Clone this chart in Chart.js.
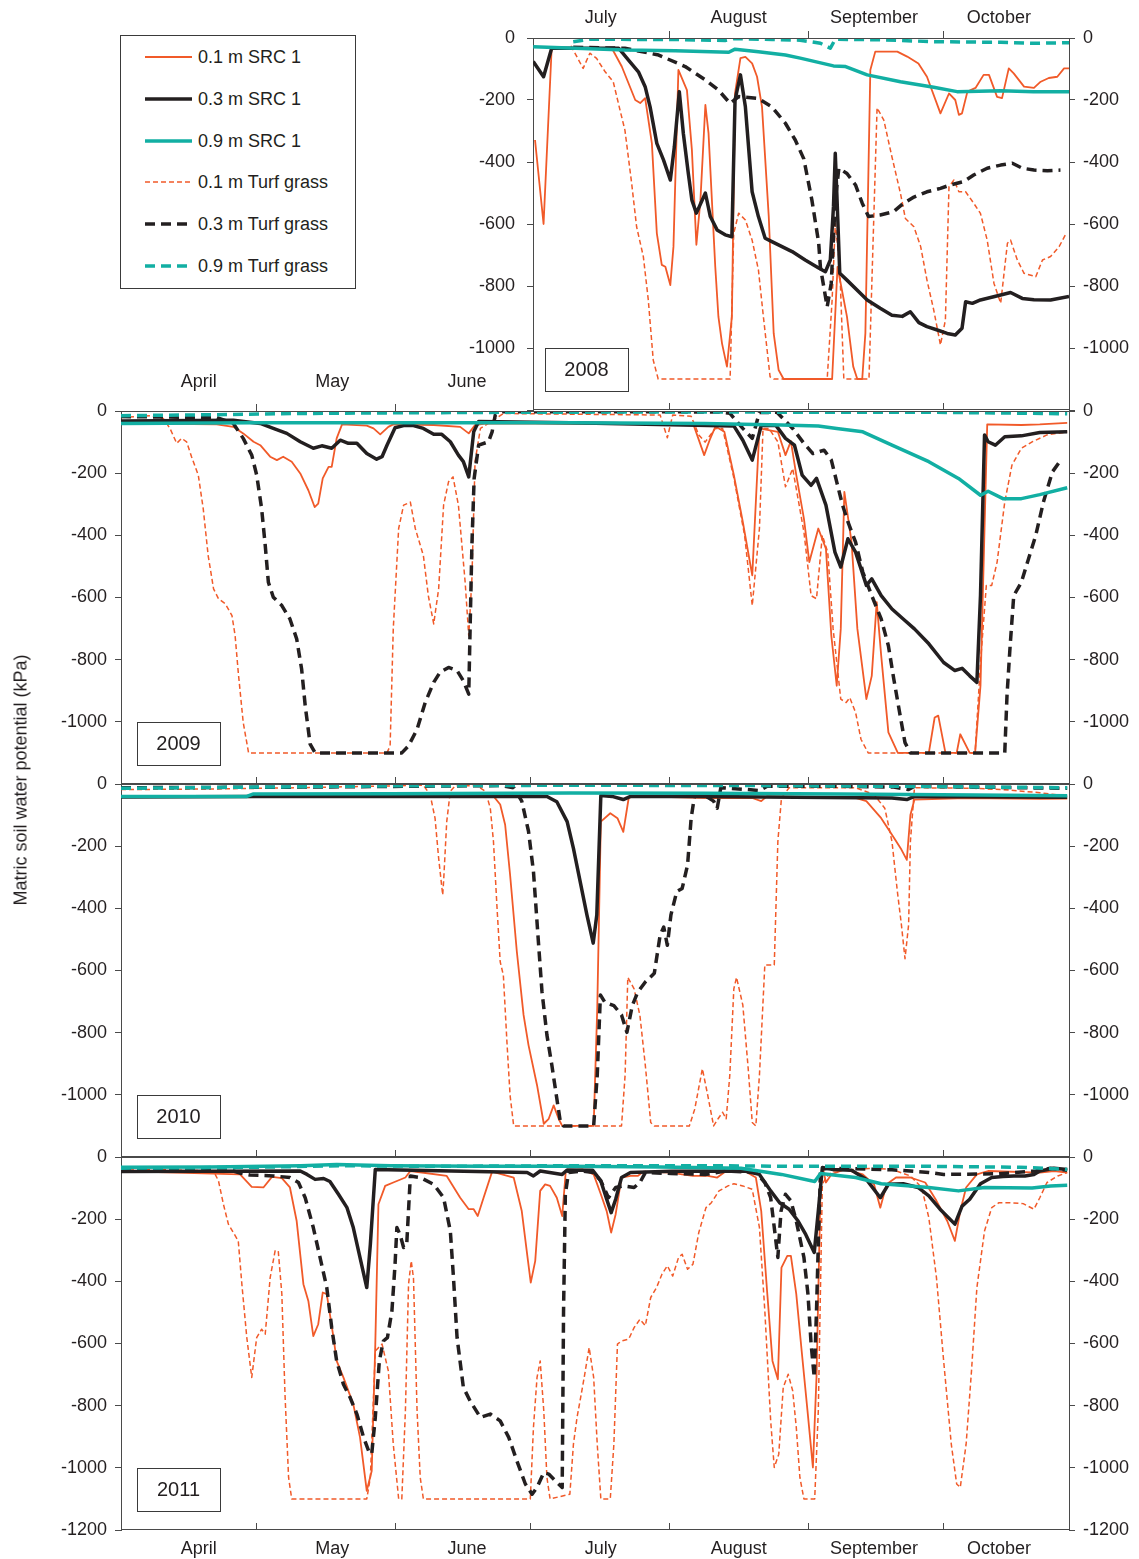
<!DOCTYPE html>
<html><head><meta charset="utf-8">
<script src="https://cdn.jsdelivr.net/npm/chart.js@4.4.1/dist/chart.umd.min.js"></script>
<style>
html,body{margin:0;padding:0;background:#fff;}
body{width:1139px;height:1559px;position:relative;overflow:hidden;font-family:"Liberation Sans",Arial,Helvetica,sans-serif;color:#231F20;}
canvas{position:absolute;left:0;top:0;}
#legend{position:absolute;left:120px;top:35px;width:234px;height:252px;border:1px solid #3a3a3a;background:#fff;z-index:5;}
.lrow{position:absolute;left:0;height:24px;}
.lrow svg{position:absolute;left:24px;top:8px;}
.lrow span{position:absolute;left:77px;top:1px;font-size:18px;white-space:nowrap;line-height:22px;}
#ytitle{position:absolute;left:21px;top:780px;width:420px;text-align:center;font-size:18px;transform:translate(-50%,-50%) rotate(-90deg);white-space:nowrap;}
</style></head>
<body>
<canvas id="c2008" width="1139" height="1559"></canvas>
<canvas id="c2009" width="1139" height="1559"></canvas>
<canvas id="c2010" width="1139" height="1559"></canvas>
<canvas id="c2011" width="1139" height="1559"></canvas>
<div id="legend"></div>
<div id="ytitle">Matric soil water potential (kPa)</div>
<script>
// ---------- labels / ticks ----------
const monthNames = ['April','May','June','July','August','September','October'];
const monthLabelDays = [17.3, 47.0, 77.0, 106.8, 137.5, 167.6, 195.4]; // days since 1 April
const monthStartDays = [30, 61, 91, 122, 153, 183];
const yearLabels = ['2008','2009','2010','2011'];
const yAxisTitle = 'Matric soil water potential (kPa)';

// ---------- data: [day since 1 April, kPa] ----------
// 2008
const s01_2008 = [[92.2,-329],[94.1,-600],[95.9,-33],[109.3,-33],[111.5,-92],[114.5,-200],[115.6,-210],[116.7,-194],[118.2,-340],[119.3,-630],[120.4,-732],[121.2,-738],[122.3,-797],[123.0,-673],[124.1,-103],[126.0,-168],[127.1,-361],[128.1,-667],[129.0,-523],[130.1,-216],[130.8,-307],[132.3,-738],[133.0,-899],[133.8,-985],[134.9,-1060],[136.0,-899],[136.7,-178],[137.9,-65],[139.0,-61],[140.5,-82],[141.6,-125],[142.7,-222],[144.2,-576],[145.3,-953],[146.4,-1071],[147.5,-1100],[158.3,-1100],[159.5,-738],[161.6,-899],[163.0,-1060],[163.9,-1100],[165.0,-1100],[165.7,-952],[166.8,-103],[167.9,-44],[172.8,-44],[175.0,-60],[177.5,-82],[179.4,-125],[182.4,-243],[184.3,-179],[185.7,-200],[186.5,-248],[187.2,-243],[188.4,-173],[190.2,-161],[192.0,-119],[193.2,-119],[195.0,-190],[196.1,-194],[197.6,-98],[198.7,-114],[201.0,-157],[203.2,-161],[204.7,-141],[206.5,-129],[208.4,-125],[209.9,-98],[211.0,-98]];
const s03_2008 = [[91.8,-76],[94.1,-125],[95.9,-33],[110.8,-33],[113.0,-71],[115.2,-109],[116.7,-157],[117.8,-222],[119.3,-340],[120.8,-394],[122.3,-458],[123.2,-351],[124.3,-173],[125.2,-308],[126.3,-436],[127.1,-523],[128.1,-565],[130.1,-500],[131.2,-576],[132.7,-619],[134.5,-635],[136.0,-641],[136.7,-200],[137.9,-119],[139.0,-222],[140.5,-496],[141.9,-576],[143.4,-646],[144.9,-657],[149.4,-689],[152.3,-716],[155.3,-742],[156.8,-754],[157.9,-716],[158.6,-544],[159.0,-372],[159.4,-523],[160.0,-759],[161.6,-781],[166.1,-845],[169.0,-872],[171.6,-894],[173.9,-898],[175.7,-883],[177.6,-918],[179.4,-931],[181.7,-942],[183.9,-953],[185.7,-958],[187.2,-936],[188.0,-851],[189.5,-856],[191.3,-845],[195.8,-829],[198.0,-821],[200.6,-840],[203.2,-844],[206.9,-845],[211.0,-834]];
const s09_2008 = [[91.8,-28],[112.2,-39],[123.4,-41],[135.3,-46],[136.7,-36],[141.9,-44],[147.9,-55],[151.2,-65],[158.6,-90],[161.3,-92],[166.1,-119],[173.5,-141],[180.9,-159],[186.1,-173],[195.8,-170],[203.1,-173],[211.0,-173]];
const t01_2008 = [[100.2,-25],[102.9,-98],[104.4,-49],[105.9,-66],[107.8,-109],[109.6,-141],[111.1,-232],[112.2,-297],[113.7,-469],[114.8,-609],[116.3,-705],[117.4,-845],[118.5,-1039],[119.6,-1100],[135.6,-1100],[136.4,-631],[137.5,-565],[139.0,-587],[140.5,-652],[141.9,-748],[143.0,-898],[144.5,-1093],[145.3,-1100],[157.2,-1100],[158.3,-845],[159.0,-598],[160.0,-738],[160.9,-1100],[166.5,-1100],[168.3,-225],[169.8,-265],[171.6,-383],[173.5,-501],[174.6,-582],[176.5,-609],[178.0,-673],[179.4,-781],[180.9,-877],[182.4,-990],[183.5,-910],[184.3,-480],[185.4,-458],[186.5,-496],[188.0,-496],[189.8,-533],[191.3,-566],[192.8,-652],[194.3,-791],[195.8,-856],[197.3,-662],[198.0,-652],[199.5,-716],[201.0,-759],[203.6,-770],[205.1,-716],[206.9,-705],[208.8,-673],[210.2,-635]];
const t03_2008 = [[100.7,-30],[112.2,-33],[119.7,-55],[125.6,-92],[130.1,-135],[133.0,-168],[135.6,-211],[137.5,-189],[141.9,-195],[144.9,-222],[147.9,-275],[150.1,-329],[152.0,-390],[153.8,-523],[155.3,-660],[155.7,-740],[157.2,-867],[158.1,-791],[159.0,-523],[159.8,-420],[161.6,-437],[163.5,-474],[165.0,-533],[166.4,-576],[169.0,-571],[172.0,-560],[174.2,-533],[176.5,-513],[179.4,-496],[182.4,-485],[184.6,-474],[187.6,-463],[189.8,-442],[192.8,-420],[195.8,-410],[198.4,-404],[200.6,-420],[203.2,-426],[206.2,-428],[209.1,-426]];
const t09_2008 = [[100.7,-12],[104.4,-4],[124.0,-5],[134.5,-8],[136.4,-2],[145.0,-5],[151.2,-7],[155.7,-17],[157.9,-33],[159.0,-4],[170.0,-6],[180.9,-12],[195.8,-14],[203.1,-17],[211.0,-15]];
// 2009
const s01_2009 = [[0,-40],[21.3,-43],[25.0,-51],[27.2,-72],[29.5,-99],[31.0,-110],[33.2,-147],[34.7,-158],[36.1,-147],[38.0,-163],[39.9,-201],[41.7,-255],[43.1,-309],[43.9,-298],[44.9,-217],[46.2,-180],[46.9,-180],[48.0,-88],[49.2,-43],[54.7,-47],[56.2,-56],[57.7,-75],[59.5,-51],[60.6,-43],[69.6,-45],[75.5,-51],[77.4,-72],[78.8,-45],[81.4,-40],[127.4,-43],[129.8,-142],[131.0,-94],[132.3,-50],[134.3,-67],[136.4,-206],[138.4,-357],[140.5,-529],[142.1,-56],[146.2,-67],[147.9,-142],[149.1,-97],[150.3,-206],[152.0,-346],[153.2,-486],[155.2,-378],[156.9,-443],[158.1,-723],[159.3,-884],[160.2,-701],[161.0,-260],[162.6,-422],[163.9,-701],[165.9,-927],[167.1,-852],[168.2,-615],[169.2,-787],[170.8,-1034],[172.9,-1100],[179.8,-1100],[181.1,-986],[181.9,-980],[183.5,-1100],[186.0,-1100],[186.8,-1040],[188.9,-1100],[190.1,-1100],[191.3,-884],[192.2,-378],[192.8,-43],[200.4,-45],[204.5,-43],[210.6,-38]];
const s03_2009 = [[0,-32],[25,-30],[31.0,-40],[33.9,-56],[36.9,-72],[39.9,-99],[42.8,-120],[44.7,-112],[46.9,-120],[48.8,-94],[50.6,-104],[52.5,-104],[54.7,-137],[56.9,-155],[58.1,-147],[59.2,-110],[61.0,-54],[62.9,-47],[65.1,-47],[67.3,-56],[69.6,-75],[71.4,-75],[73.3,-99],[75.1,-142],[76.2,-163],[77.4,-212],[78.5,-67],[79.6,-34],[100,-38],[136.4,-48],[138.4,-94],[140.5,-158],[142.5,-47],[145.8,-47],[147.9,-88],[149.9,-110],[151.6,-206],[153.6,-239],[154.8,-217],[156.9,-303],[158.9,-454],[160.2,-502],[161.8,-411],[163.5,-454],[165.9,-561],[167.1,-540],[169.2,-594],[171.6,-637],[174.1,-669],[176.6,-701],[179.8,-749],[183.1,-809],[185.6,-835],[187.2,-828],[188.9,-852],[190.5,-873],[191.3,-594],[192.2,-77],[193.0,-99],[194.6,-110],[196.7,-83],[200.4,-80],[204.5,-69],[210.6,-67]];
const s09_2009 = [[0,-40],[30,-38],[60,-38],[100,-38],[130,-40],[147.0,-45],[155.2,-48],[159.3,-56],[165.1,-67],[171.6,-110],[179.8,-163],[186.4,-217],[191.3,-271],[193.0,-258],[196.3,-282],[200.4,-282],[204.5,-269],[210.6,-247]];
const t01_2009 = [[0,-21],[6.5,-15],[9.4,-24],[10.9,-56],[12.4,-104],[13.5,-88],[14.6,-99],[15.7,-147],[17.2,-206],[18.3,-314],[19.4,-465],[20.6,-572],[21.7,-604],[23.2,-620],[24.7,-658],[25.4,-723],[26.1,-841],[27.2,-1002],[28.4,-1100],[59.2,-1100],[59.9,-1077],[60.6,-701],[61.8,-378],[62.9,-303],[64.4,-293],[65.5,-378],[67.3,-465],[68.4,-594],[69.6,-685],[70.7,-572],[71.8,-303],[72.9,-228],[73.9,-212],[75.1,-303],[76.6,-551],[77.4,-723],[78.1,-540],[78.8,-163],[80.0,-56],[82.9,-29],[85.1,-8],[120.0,-13],[121.6,-86],[122.8,-13],[126.9,-17],[128.6,-77],[130.0,-100],[132.3,-56],[133.9,-56],[136.4,-215],[138.8,-400],[140.5,-626],[142.1,-378],[142.9,-56],[144.2,-56],[146.2,-99],[147.9,-244],[149.5,-185],[152.0,-389],[153.6,-594],[154.8,-604],[156.1,-400],[157.3,-454],[158.5,-701],[160.2,-927],[161.4,-938],[162.2,-922],[163.5,-970],[164.7,-1056],[166.3,-1100],[190.1,-1100],[191.3,-809],[192.6,-561],[193.8,-561],[195.0,-486],[196.7,-293],[198.3,-174],[200.4,-120],[202.8,-99],[206.1,-77],[210.6,-67]];
const t03_2009 = [[0,-18],[21.3,-21],[25.0,-40],[27.2,-88],[29.1,-142],[30.2,-206],[31.3,-314],[32.1,-432],[32.8,-551],[33.9,-599],[35.8,-626],[37.6,-669],[39.1,-733],[40.2,-830],[41.0,-948],[42.1,-1072],[43.2,-1100],[62.5,-1100],[64.0,-1077],[65.9,-1024],[67.7,-938],[69.6,-873],[71.0,-841],[72.9,-825],[74.8,-835],[76.2,-868],[77.4,-911],[77.7,-701],[78.1,-432],[78.6,-217],[79.6,-110],[81.8,-99],[82.6,-67],[83.3,-13],[85.1,-2],[133,-3],[135.5,-7],[138.4,-56],[140.5,-88],[142.1,-5],[146,-4],[149.5,-56],[152.0,-104],[154.0,-137],[156.5,-126],[158.1,-158],[159.3,-228],[160.6,-303],[161.8,-357],[163.5,-422],[165.1,-518],[167.1,-594],[169.2,-669],[170.8,-755],[172.0,-862],[173.3,-970],[174.5,-1067],[175.7,-1100],[196.7,-1100],[197.2,-916],[197.9,-755],[198.7,-594],[200.4,-551],[202.0,-475],[203.6,-400],[205.3,-293],[207.3,-196],[209.4,-153]];
const t09_2009 = [[0,-15],[20,-12],[40,-8],[60,-6],[90,-4],[130,-3],[150,-4],[180,-4],[200,-7],[210.6,-9]];
// 2010
const s01_2010 = [[0,-39],[30,-38],[60,-38],[82.9,-39],[84.4,-66],[85.5,-131],[86.6,-292],[88.1,-539],[89.6,-743],[90.7,-840],[92.6,-969],[94.1,-1093],[95.2,-1077],[96.3,-1034],[97.4,-1077],[98.2,-1100],[105.2,-1100],[106.0,-722],[106.8,-121],[108.9,-94],[110.5,-110],[111.8,-154],[113.0,-45],[114.2,-39],[130.6,-45],[140.5,-45],[142.5,-55],[143.8,-39],[163.5,-45],[165.9,-55],[169.2,-110],[171.6,-163],[173.7,-211],[174.9,-244],[175.7,-100],[176.6,-50],[188.1,-45],[204.5,-48],[210.6,-47]];
const s03_2010 = [[0,-42],[30,-40],[60,-40],[94.8,-40],[97.0,-57],[99.3,-121],[100.7,-207],[102.2,-314],[103.7,-421],[105.1,-512],[105.9,-421],[106.8,-37],[109.3,-40],[111.8,-50],[113.4,-40],[130,-40],[150,-43],[171.6,-45],[174.9,-50],[176.6,-40],[210.6,-43]];
const s09_2010 = [[0,-40],[28.0,-40],[29.5,-32],[60,-31],[100,-29],[130,-30],[160,-32],[190,-35],[210.6,-38]];
const t01_2010 = [[0,-18],[20,-16],[40,-12],[60,-6],[67.3,-4],[68.8,-34],[69.9,-110],[70.7,-239],[71.6,-357],[71.8,-314],[72.5,-121],[73.3,-23],[74.4,-6],[79.2,-6],[81.1,-23],[82.2,-78],[82.9,-185],[83.7,-400],[84.4,-572],[85.1,-615],[85.9,-830],[86.6,-1002],[87.4,-1100],[111.4,-1100],[112.2,-937],[112.8,-622],[114.2,-659],[115.5,-745],[116.7,-905],[117.9,-1089],[118.7,-1100],[126.5,-1100],[127.7,-1046],[129.4,-916],[130.6,-1002],[131.9,-1100],[132.9,-1077],[133.9,-1056],[134.7,-1077],[135.5,-937],[136.4,-659],[137.0,-622],[138.4,-711],[139.6,-916],[140.5,-1089],[141.3,-1100],[142.1,-937],[143.3,-582],[145.4,-582],[146.2,-185],[147.0,-45],[148.7,-12],[163.5,-12],[167.6,-34],[170.0,-78],[171.6,-185],[172.8,-346],[173.7,-453],[174.5,-562],[175.3,-453],[175.7,-185],[176.6,-12],[190,-14],[196.3,-18],[204.5,-28],[210.6,-39]];
const t03_2010 = [[0,-12],[40,-10],[84.4,-5],[87.4,-12],[89.2,-55],[90.7,-152],[91.8,-281],[92.9,-507],[93.7,-668],[94.8,-808],[95.9,-905],[97.0,-1012],[97.8,-1088],[98.5,-1100],[105.2,-1100],[106.0,-937],[106.7,-679],[107.7,-702],[109.7,-713],[111.4,-743],[112.6,-799],[113.8,-713],[115.0,-670],[116.7,-637],[118.7,-609],[120.0,-486],[120.8,-460],[121.6,-519],[122.4,-421],[123.7,-346],[124.9,-336],[126.1,-261],[126.9,-110],[127.7,-34],[130.2,-39],[131.9,-55],[132.7,-78],[133.5,-12],[139.6,-18],[142.1,-21],[143.8,-7],[160,-7],[172,-10],[175.3,-18],[176.6,-7],[200,-12],[210.6,-14]];
const t09_2010 = [[0,-14],[30,-10],[60,-6],[100,-4],[140,-5],[180,-8],[210.6,-12]];
// 2011
const s01_2011 = [[0,-45],[26.5,-56],[29.1,-96],[31.7,-98],[33.6,-64],[35.8,-68],[37.6,-98],[39.1,-206],[40.6,-409],[41.7,-463],[42.8,-576],[43.9,-538],[44.9,-436],[45.8,-441],[47.3,-581],[48.0,-656],[49.5,-709],[51.7,-795],[53.2,-902],[54.7,-1074],[55.8,-1010],[56.6,-602],[57.3,-152],[58.8,-93],[60.6,-82],[63.3,-66],[64.4,-45],[72.5,-61],[75.5,-131],[77.4,-168],[78.5,-168],[79.4,-190],[80.7,-131],[82.6,-47],[87.4,-66],[89.2,-174],[90.4,-313],[91.2,-404],[92.2,-334],[93.3,-109],[94.4,-88],[95.5,-93],[97.0,-131],[98.2,-190],[99.0,-45],[102.7,-40],[105.2,-56],[106.8,-120],[108.1,-174],[109.1,-243],[110.1,-184],[111.4,-66],[113.4,-61],[115.0,-61],[116.3,-47],[122.4,-50],[124.9,-56],[127.3,-61],[130.6,-61],[132.7,-66],[134.7,-45],[138.8,-45],[141.3,-66],[142.5,-174],[143.8,-431],[145.0,-656],[146.2,-715],[147.0,-356],[148.3,-318],[149.1,-318],[150.3,-441],[151.5,-624],[152.8,-817],[154.0,-999],[154.8,-709],[155.7,-98],[156.2,-34],[156.9,-82],[158.1,-56],[161.0,-40],[165.1,-56],[167.6,-88],[169.0,-163],[170.4,-88],[172.5,-66],[175.7,-66],[179.0,-82],[181.5,-141],[183.9,-206],[185.6,-270],[186.8,-174],[188.1,-98],[190.5,-56],[193.0,-45],[204.5,-50],[207.7,-45],[210.6,-50]];
const s03_2011 = [[0,-47],[39.9,-45],[41.4,-56],[43.2,-72],[45.1,-69],[46.5,-79],[48.4,-120],[50.3,-163],[51.7,-227],[53.2,-324],[54.7,-420],[55.5,-281],[56.6,-40],[90.4,-50],[91.8,-61],[93.3,-45],[98.2,-56],[99.3,-42],[105,-43],[106.8,-77],[108.1,-136],[109.1,-179],[110.1,-136],[111.4,-66],[113.4,-50],[122.4,-46],[138.8,-45],[142.1,-56],[144.6,-109],[146.6,-147],[148.7,-168],[150.7,-206],[152.4,-249],[154.3,-307],[155.2,-174],[156.1,-34],[158.5,-40],[162.6,-43],[165.9,-72],[169.0,-131],[170.8,-88],[174.1,-86],[177.4,-98],[179.8,-125],[182.3,-168],[185.6,-216],[187.2,-158],[188.9,-136],[191.3,-86],[193.8,-66],[196.3,-63],[198.7,-61],[201.2,-61],[203.2,-56],[204.5,-45],[207.7,-36],[210.6,-40]];
const s09_2011 = [[0,-33],[20,-32],[40,-28],[48,-24],[60,-28],[80,-30],[100,-30],[120,-32],[138,-36],[147.0,-56],[154.4,-79],[155.7,-53],[163.5,-66],[169.2,-86],[175.7,-93],[179.8,-98],[186.4,-109],[192.2,-98],[202.8,-100],[206.9,-93],[210.6,-91]];
const t01_2011 = [[0,-38],[20.6,-45],[21.7,-77],[22.8,-152],[23.9,-216],[25.0,-243],[26.1,-270],[26.9,-409],[28.0,-581],[29.1,-709],[30.2,-581],[31.3,-554],[32.1,-570],[33.2,-388],[34.3,-302],[35.0,-302],[35.8,-441],[36.5,-763],[37.3,-1031],[38.0,-1100],[54.7,-1100],[55.5,-1031],[56.6,-624],[58.1,-602],[59.5,-688],[60.6,-924],[61.8,-1100],[62.5,-1100],[63.3,-817],[64.0,-409],[64.6,-334],[65.1,-390],[65.9,-817],[66.6,-1031],[67.3,-1100],[91.1,-1100],[91.8,-870],[92.6,-709],[93.3,-656],[94.1,-817],[94.8,-1031],[95.5,-1100],[99.9,-1085],[100.7,-924],[101.5,-838],[102.3,-774],[103.1,-709],[104.2,-613],[105.2,-709],[106.0,-924],[106.8,-1100],[108.9,-1100],[109.7,-924],[110.5,-602],[111.4,-592],[113.0,-586],[114.2,-549],[115.5,-522],[116.7,-543],[117.9,-452],[119.2,-420],[120.4,-377],[121.6,-350],[122.8,-383],[124.1,-323],[124.9,-313],[126.1,-361],[127.3,-345],[128.6,-243],[130.2,-163],[131.4,-147],[133.1,-109],[135.1,-93],[136.4,-86],[138.4,-93],[140.5,-104],[142.1,-227],[143.3,-495],[144.6,-849],[145.4,-999],[146.4,-956],[147.4,-741],[148.5,-699],[149.5,-752],[150.3,-870],[151.1,-1031],[152.0,-1100],[154.4,-1100],[155.2,-817],[156.1,-88],[156.9,-66],[158.5,-45],[163.5,-40],[167.6,-36],[171.6,-40],[175.7,-61],[178.2,-98],[179.8,-195],[181.5,-388],[183.1,-656],[184.8,-924],[186.0,-1052],[186.8,-1063],[188.1,-924],[189.3,-688],[190.5,-420],[192.2,-238],[193.8,-163],[195.4,-147],[197.9,-147],[200.8,-150],[203.2,-168],[204.5,-131],[206.1,-82],[208.5,-61],[210.6,-50]];
const t03_2011 = [[0,-43],[25,-45],[26.5,-52],[28.7,-58],[33.9,-61],[37.6,-66],[39.5,-82],[41.0,-131],[42.8,-227],[44.3,-323],[45.8,-420],[46.9,-549],[48.0,-656],[49.5,-731],[51.0,-774],[52.5,-827],[54.0,-902],[55.1,-945],[55.8,-956],[56.6,-838],[57.5,-656],[58.4,-592],[59.3,-581],[60.3,-495],[61.0,-345],[61.4,-227],[62.1,-249],[62.9,-291],[63.6,-280],[64.4,-61],[66.6,-66],[69.6,-88],[71.8,-131],[73.3,-238],[74.0,-388],[74.8,-581],[76.2,-741],[77.7,-785],[80.0,-838],[82.2,-827],[84.4,-849],[86.3,-902],[88.1,-977],[90.0,-1052],[91.5,-1085],[92.6,-1063],[94.1,-1015],[95.2,-1020],[96.7,-1042],[98.2,-1063],[98.5,-495],[98.9,-120],[99.6,-50],[102.7,-45],[105.2,-50],[106.8,-77],[108.5,-131],[110.1,-98],[111.8,-93],[114.2,-98],[115.5,-82],[116.7,-50],[122.4,-53],[130,-56],[134.7,-45],[141.3,-50],[143.3,-82],[144.6,-131],[145.4,-227],[146.2,-323],[146.9,-174],[147.9,-120],[149.1,-141],[150.3,-206],[152.0,-323],[152.9,-441],[153.6,-602],[154.3,-709],[154.8,-495],[155.2,-281],[155.7,-40],[157.7,-36],[171.6,-41],[179.8,-50],[183.1,-56],[195,-54],[203.6,-45],[206.9,-36],[210.6,-43]];
const t09_2011 = [[0,-36],[30,-33],[50,-28],[70,-30],[100,-28],[130,-28],[150,-30],[180,-30],[200,-33],[210.6,-40]];

// ---------- styles ----------
const ORANGE = '#F15A29', BLACK = '#231F20', TEAL = '#12AFA3', AXIS = '#4a4a4a';
const FONT = '"Liberation Sans", Arial, Helvetica, sans-serif';
const SERIES = [ // drawing order: first is on top
  {key:'t09', label:'0.9 m Turf grass', color:TEAL,   width:3.5, dash:[10,6]},
  {key:'s09', label:'0.9 m SRC 1',      color:TEAL,   width:3.5, dash:[]},
  {key:'s03', label:'0.3 m SRC 1',      color:BLACK,  width:3.5, dash:[]},
  {key:'t03', label:'0.3 m Turf grass', color:BLACK,  width:3.5, dash:[10,6]},
  {key:'s01', label:'0.1 m SRC 1',      color:ORANGE, width:1.8, dash:[]},
  {key:'t01', label:'0.1 m Turf grass', color:ORANGE, width:1.5, dash:[5,3]}
];
const LEGEND_ORDER = ['s01','s03','s09','t01','t03','t09'];

const PANELS = [
  {id:'c2008', year:yearLabels[0], top:38,  bottom:410,  left:533, xmin:91.75, leftW:80,  lpad:12,
   data:{s01:s01_2008,s03:s03_2008,s09:s09_2008,t01:t01_2008,t03:t03_2008,t09:t09_2008},
   topTicks:[122,153,183], topLabels:[3,4,5,6], topLabelDy:20, bottomLabels:false, boxDx:12, yTicksMin:-1000},
  {id:'c2009', year:yearLabels[1], top:411, bottom:784,  left:121, xmin:0, leftW:121, lpad:8,
   data:{s01:s01_2009,s03:s03_2009,s09:s09_2009,t01:t01_2009,t03:t03_2009,t09:t09_2009},
   topTicks:[30,61], topLabels:[0,1,2], topLabelDy:29, bottomLabels:false, boxDx:16, yTicksMin:-1000},
  {id:'c2010', year:yearLabels[2], top:784, bottom:1157, left:121, xmin:0, leftW:121, lpad:8,
   data:{s01:s01_2010,s03:s03_2010,s09:s09_2010,t01:t01_2010,t03:t03_2010,t09:t09_2010},
   topTicks:[], topLabels:[], topLabelDy:0, bottomLabels:false, boxDx:16, yTicksMin:-1000},
  {id:'c2011', year:yearLabels[3], top:1157, bottom:1530, left:121, xmin:0, leftW:121, lpad:8,
   data:{s01:s01_2011,s03:s03_2011,s09:s09_2011,t01:t01_2011,t03:t03_2011,t09:t09_2011},
   topTicks:[], topLabels:[], topLabelDy:0, bottomLabels:true, boxDx:16, yTicksMin:-1200}
];
const XMAX = 211, W = 1139, H = 1559, RIGHT = 1069;

const framePlugin = {
  id:'frame',
  afterDatasetsDraw(chart) {
    const P = chart.options.plugins.frame.panel;
    const {ctx, chartArea:a} = chart;
    const x = chart.scales.x, y = chart.scales.y;
    ctx.save();
    ctx.strokeStyle = AXIS; ctx.lineWidth = 1;
    ctx.beginPath();
    ctx.moveTo(a.left, a.top + 0.5); ctx.lineTo(a.right, a.top + 0.5);
    ctx.moveTo(a.left, a.bottom - 0.5); ctx.lineTo(a.right, a.bottom - 0.5);
    monthStartDays.forEach(d => {
      if (d > x.min && d < x.max) {
        const px = Math.round(x.getPixelForValue(d)) + 0.5;
        ctx.moveTo(px, a.bottom); ctx.lineTo(px, a.bottom - 7);
      }
    });
    P.topTicks.forEach(d => {
      const px = Math.round(x.getPixelForValue(d)) + 0.5;
      ctx.moveTo(px, a.top); ctx.lineTo(px, a.top - 7);
    });
    ctx.stroke();
    ctx.fillStyle = '#231F20';
    ctx.font = '18px ' + FONT;
    ctx.textAlign = 'center'; ctx.textBaseline = 'middle';
    P.topLabels.forEach(i => {
      ctx.fillText(monthNames[i], x.getPixelForValue(monthLabelDays[i]), a.top - P.topLabelDy);
    });
    if (P.bottomLabels) {
      monthNames.forEach((m, i) => ctx.fillText(m, x.getPixelForValue(monthLabelDays[i]), a.bottom + 19));
    }
    // year box
    const bx = a.left + P.boxDx, by = Math.round(y.getPixelForValue(-1000)) + 0.5;
    ctx.fillStyle = '#fff';
    ctx.fillRect(bx, by, 83, 43);
    ctx.strokeStyle = '#3a3a3a';
    ctx.strokeRect(Math.round(bx) + 0.5, by, 83, 43);
    ctx.fillStyle = '#231F20';
    ctx.font = '20px ' + FONT;
    ctx.fillText(P.year, bx + 41.5, by + 22);
    ctx.restore();
  }
};

function axisOpts(position, P) {
  return {
    type:'linear', position, min:-1200, max:0,
    afterBuildTicks: s => {
      const t = [];
      for (let v = 0; v >= P.yTicksMin; v -= 200) t.push({value:v});
      if (P.yTicksMin > -1200) t.push({value:-1200, hidden:true});
      s.ticks = t;
    },
    ticks:{ color:'#231F20', font:{family:FONT, size:18}, padding: position === 'left' ? P.lpad : 8,
      callback: (v) => (v === -1200 && P.yTicksMin > -1200) ? '' : String(v) },
    grid:{ drawOnChartArea:false, drawTicks:true, tickLength:6, color:AXIS, lineWidth:1 },
    border:{ display:true, color:AXIS, width:1 },
    afterFit: s => { s.width = position === 'left' ? P.leftW : (W - RIGHT); }
  };
}

Chart.defaults.font.family = FONT;
PANELS.forEach(P => {
  const datasets = SERIES.map(sd => ({
    label: sd.label,
    data: P.data[sd.key].map(p => ({x:p[0], y:p[1]})),
    borderColor: sd.color, backgroundColor: sd.color,
    borderWidth: sd.width, borderDash: sd.dash,
    pointRadius: 0, fill: false, tension: 0,
    borderJoinStyle: 'round', yAxisID: 'y'
  }));
  new Chart(document.getElementById(P.id), {
    type:'line',
    data:{datasets},
    options:{
      responsive:false, animation:false, events:[],
      layout:{padding:{top:P.top, bottom:H - P.bottom, left:P.left - P.leftW, right:0}},
      plugins:{legend:{display:false}, tooltip:{enabled:false}, frame:{panel:P}},
      scales:{
        x:{type:'linear', display:false, min:P.xmin, max:XMAX},
        y: axisOpts('left', P),
        y2: axisOpts('right', P)
      }
    },
    plugins:[framePlugin]
  });
});

// legend
const lg = document.getElementById('legend');
LEGEND_ORDER.forEach((k, i) => {
  const sd = SERIES.find(s => s.key === k);
  const row = document.createElement('div');
  row.className = 'lrow';
  row.style.top = (9 + i * 41.8) + 'px';
  row.style.width = '100%';
  const dash = sd.dash.length ? ` stroke-dasharray="${sd.dash.join(',')}"` : '';
  row.innerHTML = `<svg width="50" height="8"><line x1="0" y1="4" x2="47" y2="4" stroke="${sd.color}" stroke-width="${sd.width}"${dash}/></svg><span>${sd.label}</span>`;
  lg.appendChild(row);
});
</script>
</body></html>
